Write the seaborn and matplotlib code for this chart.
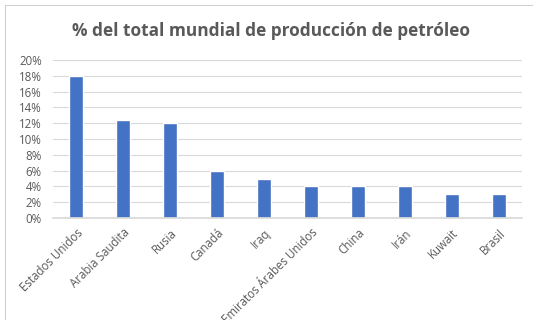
import matplotlib
matplotlib.use("Agg")
import matplotlib.pyplot as plt
import seaborn as sns
import pandas as pd
from matplotlib.lines import Line2D
from matplotlib.ticker import FuncFormatter

paises = ["Estados Unidos", "Arabia Saudita", "Rusia", "Canadá", "Iraq",
          "Emiratos Árabes Unidos", "China", "Irán", "Kuwait", "Brasil"]
porcentaje = [18, 12.4, 12, 6, 5, 4, 4, 4, 3, 3]
ticks = [0, 2, 4, 6, 8, 10, 12, 14, 16, 18, 20]

df = pd.DataFrame({"pais": paises, "pct": porcentaje})

sns.set_theme(style="white")
plt.rcParams["font.family"] = ["Open Sans", "DejaVu Sans"]

fig = plt.figure(figsize=(5.33, 3.2), dpi=100)
ax = fig.add_axes([53 / 533, 1 - 218 / 320, (522 - 53) / 533, (218 - 60) / 320])

sns.barplot(data=df, x="pais", y="pct", color="#4472C4", saturation=1,
            width=0.3, ax=ax)

ax.set_ylim(0, 20)
ax.set_yticks(ticks)
ax.yaxis.set_major_formatter(FuncFormatter(lambda v, p: f"{v:.0f}%"))
ax.grid(axis="y", color="#D9D9D9", linewidth=0.8)
ax.set_axisbelow(True)
for s in ["top", "right", "left"]:
    ax.spines[s].set_visible(False)
ax.spines["bottom"].set_color("#D9D9D9")
ax.set_xlabel("")
ax.set_ylabel("")
ax.tick_params(axis="both", length=0, labelsize=8.3, colors="#595959")
ax.tick_params(axis="y", pad=8)
ax.tick_params(axis="x", pad=6)
plt.setp(ax.get_xticklabels(), rotation=45, ha="right", rotation_mode="anchor")

fig.text(271.5 / 533, 1 - 31 / 320, "% del total mundial de producción de petróleo",
         ha="center", va="center", fontsize=12.4, fontweight="bold", color="#595959")

# chart frame (screenshot border)
fig.add_artist(Line2D([5 / 533, 1], [1 - 5 / 320, 1 - 5 / 320],
                      transform=fig.transFigure, color="#D0D0D0", linewidth=0.8))
fig.add_artist(Line2D([5 / 533, 5 / 533], [0, 1 - 5 / 320],
                      transform=fig.transFigure, color="#D0D0D0", linewidth=0.8))

fig.savefig("out.png", dpi=100)
